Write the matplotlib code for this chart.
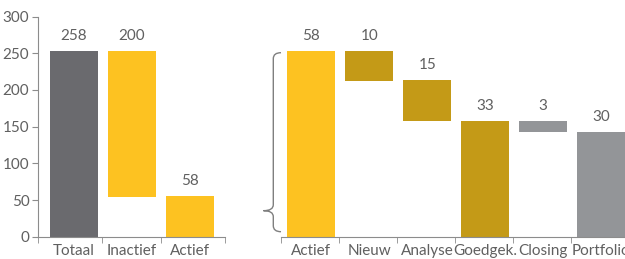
import matplotlib
matplotlib.use("Agg")
import matplotlib.pyplot as plt
from matplotlib.path import Path
from matplotlib.patches import PathPatch

plt.rcParams['font.family'] = ['Lato', 'DejaVu Sans']

# left part
left_cats = ['Totaal', 'Inactief', 'Actief']
left_vals = [258, 200, 58]
left_bottom = [0, 54, 0]
left_top = [253, 253, 55]
left_colors = ['#6a6a6e', '#fdc221', '#fdc221']

# right part (zoomed view of "Actief")
right_cats = ['Actief', 'Nieuw', 'Analyse', 'Goedgek.', 'Closing', 'Portfolio']
right_vals = [58, 10, 15, 33, 3, 30]
right_bottom = [0, 212.5, 158, 0, 142, 0]
right_top = [253, 253, 213.5, 157.6, 157.6, 142.6]
right_colors = ['#fdc221', '#c49a17', '#c49a17', '#c49a17', '#939598', '#939598']

txt = '#606060'
axc = '#8c8c8c'
W, H = 625, 259

fig = plt.figure(figsize=(6.25, 2.59), dpi=100)

def px_axes(x0, x1):
    return fig.add_axes([x0 / W, 22.3 / H, (x1 - x0) / W, 220.2 / H])

def style(ax, bounds):
    for s in ['top', 'right']:
        ax.spines[s].set_visible(False)
    ax.spines['bottom'].set_color(axc)
    ax.spines['left'].set_color(axc)
    ax.set_ylim(0, 300)
    ax.set_xticks(bounds, minor=True)
    ax.tick_params(axis='x', which='minor', length=4, color=axc, direction='out')
    ax.tick_params(axis='x', which='major', length=0, pad=5, labelsize=11, labelcolor=txt)

# left axes
ax1 = px_axes(37.7, 225.3)
x1 = list(range(len(left_cats)))
ax1.bar(x1, [t - b for t, b in zip(left_top, left_bottom)], bottom=left_bottom,
        width=0.83, color=left_colors)
ax1.set_xlim(-0.62, 2.61)
style(ax1, [-0.62, 0.49, 1.51, 2.61])
ax1.set_xticks(x1)
ax1.set_xticklabels(left_cats)
ax1.set_yticks(range(0, 301, 50))
ax1.tick_params(axis='y', length=4, color=axc, labelsize=11, labelcolor=txt, pad=2)
for x, t, v in zip(x1, left_top, left_vals):
    ax1.annotate(str(v), (x, t), xytext=(0, 11), textcoords='offset points',
                 ha='center', va='center', fontsize=11, color=txt)

# right axes
ax2 = px_axes(281, 640)
x2 = list(range(len(right_cats)))
ax2.bar(x2, [t - b for t, b in zip(right_top, right_bottom)], bottom=right_bottom,
        width=0.83, color=right_colors)
ax2.set_xlim(-0.52, (640 - 281) / 58 - 0.52)
style(ax2, [-0.52, 0.48, 1.48, 2.48, 3.48, 4.48])
ax2.spines['left'].set_visible(False)
ax2.set_yticks([])
ax2.set_xticks(x2)
ax2.set_xticklabels(right_cats)
for x, t, v in zip(x2, right_top, right_vals):
    ax2.annotate(str(v), (x, t), xytext=(0, 11), textcoords='offset points',
                 ha='center', va='center', fontsize=11, color=txt)

# brace, drawn in pixel coordinates (origin top-left)
def P(x, y):
    return (x / W, 1 - y / H)

xv, xr, xt = 273.3, 281, 263.5
yt, yb, ym = 52.7, 231.7, 210.7
verts = [P(xr, yt), P(xv, yt), P(xv, yt + 6),
         P(xv, ym - 6), P(xv, ym), P(xt, ym),
         P(xv, ym), P(xv, ym + 6),
         P(xv, yb - 6), P(xv, yb), P(xr, yb)]
codes = [Path.MOVETO, Path.CURVE3, Path.CURVE3,
         Path.LINETO, Path.CURVE3, Path.CURVE3,
         Path.CURVE3, Path.CURVE3,
         Path.LINETO, Path.CURVE3, Path.CURVE3]
fig.add_artist(PathPatch(Path(verts, codes), transform=fig.transFigure,
                         fill=False, edgecolor='#7f7f7f', lw=1))

fig.savefig('out.png', dpi=100)
